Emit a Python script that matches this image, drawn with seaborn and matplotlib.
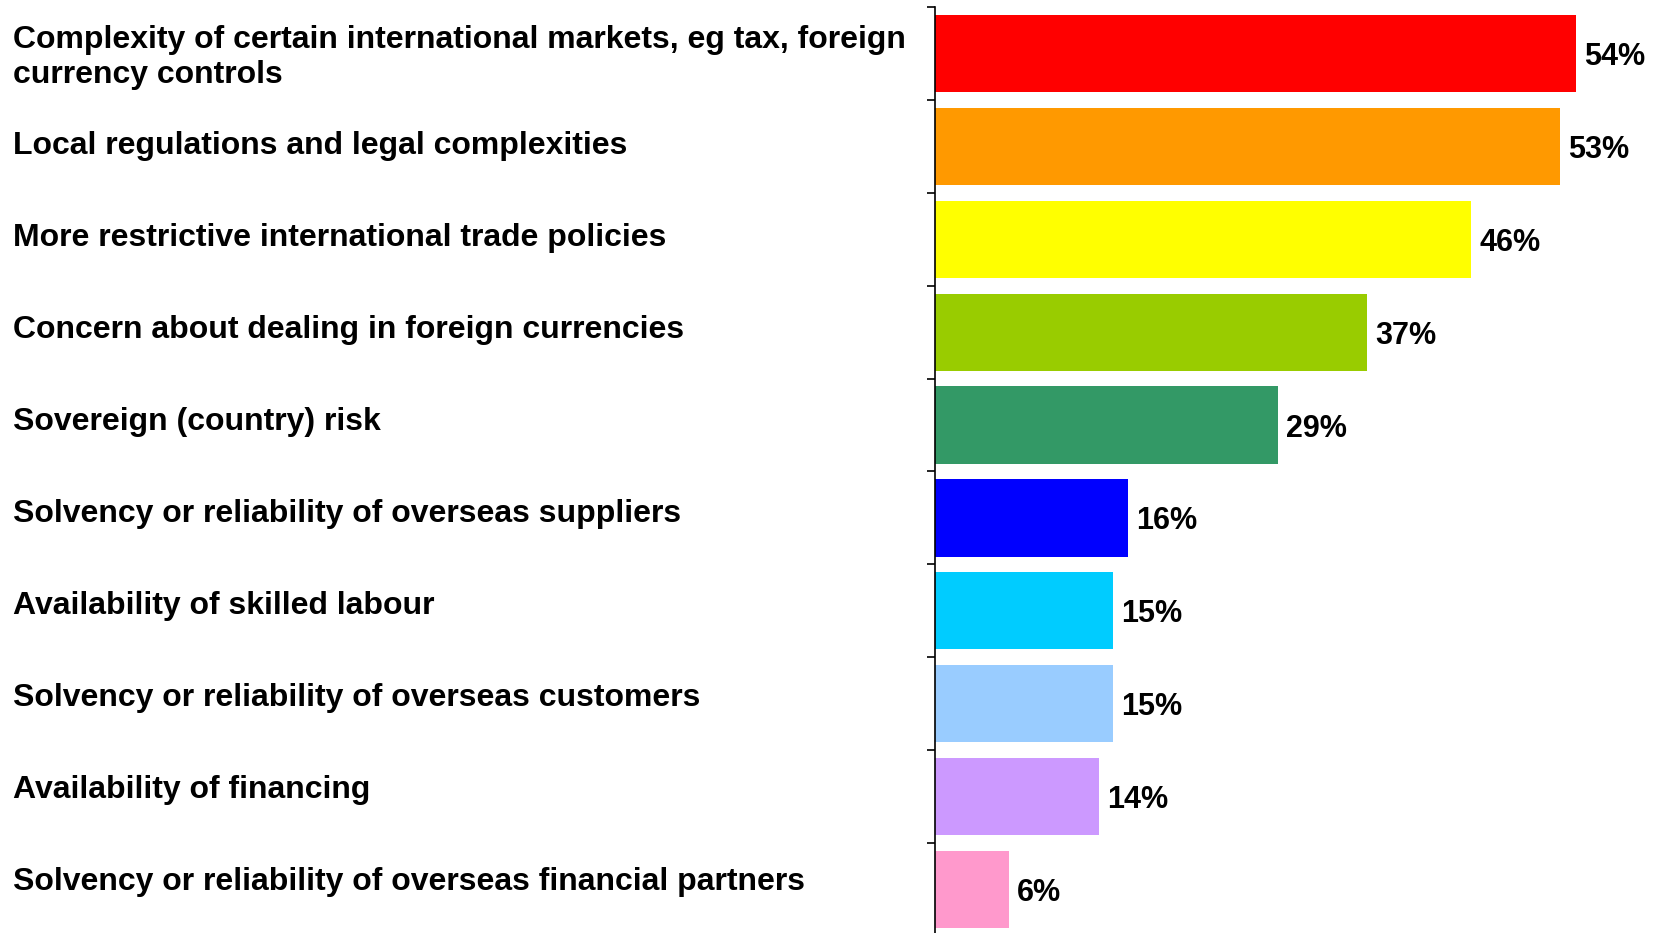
import matplotlib
matplotlib.use("Agg")
import matplotlib.pyplot as plt
import matplotlib.transforms as mtransforms
import seaborn as sns
import pandas as pd

categories = [
    "Complexity of certain international markets, eg tax, foreign\ncurrency controls",
    "Local regulations and legal complexities",
    "More restrictive international trade policies",
    "Concern about dealing in foreign currencies",
    "Sovereign (country) risk",
    "Solvency or reliability of overseas suppliers",
    "Availability of skilled labour",
    "Solvency or reliability of overseas customers",
    "Availability of financing",
    "Solvency or reliability of overseas financial partners",
]
values = [54.0, 52.7, 45.2, 36.4, 28.9, 16.3, 15.0, 15.0, 13.8, 6.2]
value_labels = ["54%", "53%", "46%", "37%", "29%", "16%", "15%", "15%", "14%", "6%"]
colors = ["#FF0000", "#FF9900", "#FFFF00", "#99CC00", "#339966",
          "#0000FF", "#00CCFF", "#99CCFF", "#CC99FF", "#FF99CC"]

sns.set_theme(style="white")
plt.rcParams['font.family'] = ['Liberation Sans', 'DejaVu Sans']
plt.rcParams['text.color'] = 'black'
plt.rcParams['ytick.labelcolor'] = 'black'

W, H = 1660, 933
fig = plt.figure(figsize=(W / 100, H / 100), dpi=100)
ax_left = 935 / W
ax_top = 7
ax_bottom = 936
ax = fig.add_axes([ax_left, (H - ax_bottom) / H, 712 / W, (ax_bottom - ax_top) / H])

df = pd.DataFrame({"cat": categories, "val": values})
sns.barplot(data=df, x="val", y="cat", hue="cat", palette=colors, legend=False,
            width=0.83, orient="h", saturation=1, ax=ax, linewidth=0)

ax.set_xlim(0, 60)
ax.set_ylim(9.5, -0.5)
ax.set_xlabel("")
ax.set_ylabel("")
ax.set_xticks([])

for s in ["top", "right", "bottom"]:
    ax.spines[s].set_visible(False)
ax.spines["left"].set_color("black")
ax.spines["left"].set_linewidth(1.2)

ax.set_yticks(range(len(categories)))
ax.set_yticklabels(categories, ha="left", fontsize=23, fontweight="bold",
                   linespacing=1.2, color="black")
ax.tick_params(axis="y", which="major", length=0, pad=(935 - 13) * 0.72)
ax.set_yticks([i - 0.5 for i in range(len(categories) + 1)], minor=True)
ax.tick_params(axis="y", which="minor", length=6, width=1.2, direction="out",
               color="black", left=True)

for i, lab in enumerate(ax.get_yticklabels()):
    up_px = 2.0 if i == 0 else 4.0 + 0.93 * (i - 1)
    shift = mtransforms.ScaledTranslation(0, up_px / 100, fig.dpi_scale_trans)
    lab.set_transform(lab.get_transform() + shift)

for cont, lbl in zip(ax.containers, value_labels):
    texts = ax.bar_label(cont, labels=[lbl], padding=5.76, fontsize=22,
                         fontweight="bold", color="black")
    for t in texts:
        t.xyann = (5.76, -3.5 * 0.72)

fig.savefig("out.png", dpi=100)
